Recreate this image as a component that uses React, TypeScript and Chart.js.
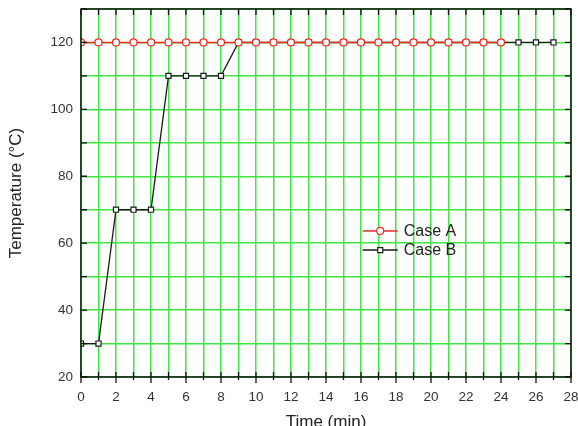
import React, { useEffect, useRef } from "react";
import { Chart, registerables } from "chart.js";

Chart.register(...registerables);

const timeA = [0, 1, 2, 3, 4, 5, 6, 7, 8, 9, 10, 11, 12, 13, 14, 15, 16, 17, 18, 19, 20, 21, 22, 23, 24];
const tempA = [120, 120, 120, 120, 120, 120, 120, 120, 120, 120, 120, 120, 120, 120, 120, 120, 120, 120, 120, 120, 120, 120, 120, 120, 120];
const timeB = [0, 1, 2, 3, 4, 5, 6, 7, 8, 9, 10, 11, 12, 13, 14, 15, 16, 17, 18, 19, 20, 21, 22, 23, 24, 25, 26, 27];
const tempB = [30, 30, 70, 70, 70, 110, 110, 110, 110, 120, 120, 120, 120, 120, 120, 120, 120, 120, 120, 120, 120, 120, 120, 120, 120, 120, 120, 120];
const seriesNames = ["Case A", "Case B"];
const xMin = 0, xMax = 28, yMin = 20, yMax = 130;

const RED = "#ee2a22";
const BLACK = "#1a1a1a";
const GREEN = "#3fe63f";
const FONT = "'Liberation Sans', Arial, sans-serif";

const framePlugin = {
  id: "frameTicks",
  afterDatasetsDraw(chart: any) {
    const { ctx, chartArea } = chart;
    const { left, right, top, bottom } = chartArea;
    const xs = chart.scales.x;
    const ys = chart.scales.y;
    ctx.save();
    ctx.strokeStyle = "#111";
    ctx.lineWidth = 1.5;
    ctx.strokeRect(left, top, right - left, bottom - top);
    ctx.lineWidth = 1.3;
    ctx.beginPath();
    for (let v = xMin; v <= xMax; v++) {
      const px = xs.getPixelForValue(v);
      const major = v % 2 === 0;
      ctx.moveTo(px, bottom - 5);
      ctx.lineTo(px, bottom + (major ? 6 : 3));
      ctx.moveTo(px, top);
      ctx.lineTo(px, top + 6);
    }
    for (let v = yMin; v <= yMax; v += 10) {
      const py = ys.getPixelForValue(v);
      ctx.moveTo(left, py);
      ctx.lineTo(left + 6, py);
      ctx.moveTo(right, py);
      ctx.lineTo(right - 6, py);
    }
    ctx.stroke();

    // legend
    const lx0 = left + (right - left) * 0.575;
    const lx1 = lx0 + 35;
    const rows = [
      { y: top + (bottom - top) * 0.603, color: RED, shape: "circle" },
      { y: top + (bottom - top) * 0.655, color: BLACK, shape: "rect" },
    ];
    rows.forEach((r, i) => {
      ctx.strokeStyle = r.color;
      ctx.lineWidth = 1.5;
      ctx.beginPath();
      ctx.moveTo(lx0, r.y);
      ctx.lineTo(lx1, r.y);
      ctx.stroke();
      const mx = (lx0 + lx1) / 2;
      ctx.fillStyle = "#fff";
      ctx.lineWidth = 1.2;
      ctx.beginPath();
      if (r.shape === "circle") ctx.arc(mx, r.y, 3.5, 0, Math.PI * 2);
      else ctx.rect(mx - 2.5, r.y - 2.5, 5, 5);
      ctx.fill();
      ctx.stroke();
      ctx.fillStyle = "#222";
      ctx.font = `16px ${FONT}`;
      ctx.textBaseline = "middle";
      ctx.textAlign = "left";
      ctx.fillText(seriesNames[i], lx1 + 6, r.y + 1);
    });
    ctx.restore();
  },
};

export default function App() {
  const ref = useRef<HTMLCanvasElement>(null);
  useEffect(() => {
    if (!ref.current) return;
    const chart = new Chart(ref.current, {
      type: "line",
      data: {
        datasets: [
          {
            label: seriesNames[0],
            data: timeA.map((x, i) => ({ x, y: tempA[i] })),
            borderColor: RED,
            backgroundColor: "#fff",
            borderWidth: 1.6,
            pointStyle: "circle",
            pointRadius: 3.5,
            pointBorderWidth: 1.2,
            pointBorderColor: RED,
            pointBackgroundColor: "#fff",
            tension: 0,
            clip: 0,
          },
          {
            label: seriesNames[1],
            data: timeB.map((x, i) => ({ x, y: tempB[i] })),
            borderColor: BLACK,
            backgroundColor: "#fff",
            borderWidth: 1.3,
            pointStyle: "rect",
            pointRadius: 3.6,
            pointBorderWidth: 1.2,
            pointBorderColor: BLACK,
            pointBackgroundColor: "#fff",
            tension: 0,
            clip: 0,
          },
        ],
      },
      options: {
        responsive: false,
        animation: false,
        layout: { padding: { left: 0, top: 9, right: 7, bottom: 0 } },
        plugins: { legend: { display: false }, tooltip: { enabled: false } },
        scales: {
          x: {
            type: "linear",
            min: xMin,
            max: xMax,
            afterFit: (s: any) => { s.height = 49; s.paddingLeft = 0; s.paddingRight = 0; },
            ticks: {
              stepSize: 1,
              autoSkip: false,
              maxRotation: 0,
              padding: 12,
              color: "#333",
              font: { family: FONT, size: 13.5 },
              callback: (v: any) => (Number(v) % 2 === 0 ? String(v) : ""),
            },
            grid: { color: GREEN, lineWidth: 1.5, drawTicks: false },
            border: { display: false },
            title: {
              display: true,
              text: "Time (min)",
              color: "#222",
              font: { family: FONT, size: 17 },
              padding: { top: 0, bottom: -7 },
            },
          },
          y: {
            type: "linear",
            min: yMin,
            max: yMax,
            afterFit: (s: any) => { s.width = 81; s.paddingTop = 0; s.paddingBottom = 0; },
            ticks: {
              stepSize: 10,
              padding: 8,
              color: "#333",
              font: { family: FONT, size: 13.5 },
              callback: (v: any) => (Number(v) % 20 === 0 && Number(v) <= 120 ? String(v) : ""),
            },
            grid: { color: GREEN, lineWidth: 1.5, drawTicks: false },
            border: { display: false },
            title: {
              display: true,
              text: "Temperature (°C)",
              color: "#222",
              font: { family: FONT, size: 17 },
              padding: { top: 6, bottom: 0 },
            },
          },
        },
      },
      plugins: [framePlugin],
    } as any);
    return () => chart.destroy();
  }, []);
  return (
    <div style={{ position: "fixed", left: 0, top: 0, width: 578, height: 426, background: "#fff" }}>
      <canvas ref={ref} width={578} height={426} style={{ display: "block" }} />
    </div>
  );
}
